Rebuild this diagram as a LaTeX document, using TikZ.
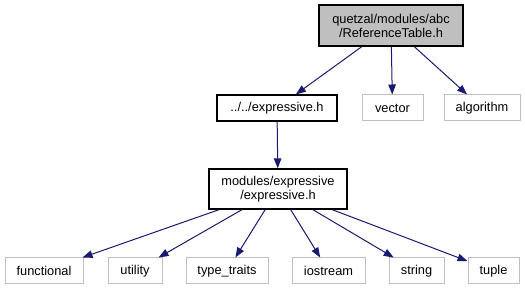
\documentclass[tikz,border=0pt]{standalone}
\usepackage{fontspec}
\setmainfont{Liberation Sans}
\usetikzlibrary{arrows.meta,positioning}

\definecolor{edgeblue}{HTML}{191970}
\definecolor{boxgray}{HTML}{BFBFBF}

\begin{document}
\begin{tikzpicture}[x=1pt,y=-1pt,
  file/.style={draw,line width=1.3pt,inner sep=0pt,minimum height=26pt,align=center,font=\fontsize{12.8}{14}\selectfont},
  sys/.style={file,draw=boxgray,line width=1pt},
  dep/.style={-{Triangle[length=10pt,width=7.5pt]},edgeblue,line width=1pt}]

\useasboundingbox (0,0) rectangle (525,291);

\node[file,fill=boxgray,minimum width=144pt,minimum height=41pt] (ref) at (391,25.5) {quetzal/modules/abc\\/ReferenceTable.h};

\node[file,minimum width=120pt] (rel) at (277,108) {../../expressive.h};
\node[sys,minimum width=61pt] (vector) at (392.5,108) {vector};
\node[sys,minimum width=76pt] (algorithm) at (482,108) {algorithm};

\node[file,minimum width=138pt,minimum height=40pt] (mod) at (278,189) {modules/expressive\\/expressive.h};

% standard headers
\node[sys,minimum width=78pt] (functional) at (44,271) {functional};
\node[sys,minimum width=54pt] (utility) at (135,271) {utility};
\node[sys,minimum width=82pt] (typetraits) at (227,271) {type\_traits};
\node[sys,minimum width=73pt] (iostream) at (328.5,271) {iostream};
\node[sys,minimum width=55pt] (string) at (416.5,271) {string};
\node[sys,minimum width=51pt] (tuple) at (493.5,271) {tuple};

\draw[dep] (ref) -- (rel);
\draw[dep] (ref) -- (vector);
\draw[dep] (ref) -- (algorithm);
\draw[dep] (rel) -- (mod);
\draw[dep] (mod) -- (functional);
\draw[dep] (mod) -- (utility);
\draw[dep] (mod) -- (typetraits);
\draw[dep] (mod) -- (iostream);
\draw[dep] (mod) -- (string);
\draw[dep] (mod) -- (tuple);

\end{tikzpicture}
\end{document}
